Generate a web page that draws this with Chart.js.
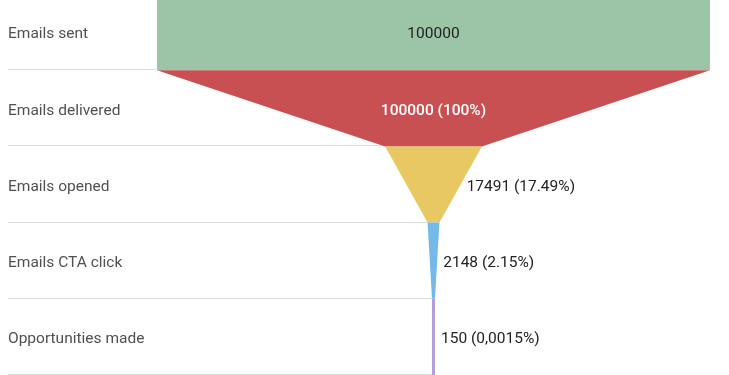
<!DOCTYPE html>
<html>
<head>
<meta charset="utf-8">
<script src="https://cdn.jsdelivr.net/npm/chart.js@4.4.1/dist/chart.umd.min.js"></script>
<style>
  html, body { margin: 0; padding: 0; background: #fff; overflow: hidden; }
  #wrap { position: relative; top: -6px; width: 729px; height: 381px; }
</style>
</head>
<body>
<div id="wrap"><canvas id="funnel"></canvas></div>
<script>
// funnel data
const stages = ["Emails sent", "Emails delivered", "Emails opened", "Emails CTA click", "Opportunities made"];
const counts = [100000, 100000, 17491, 2148, 150];
const valueLabels = ["100000", "100000 (100%)", "17491 (17.49%)", "2148 (2.15%)", "150 (0,0015%)"];

const stageColors = ["#9bc5a6", "#c95052", "#e8c862", "#74b9e7", "#b39ddb"];
const textColors = ["#222", "#fff", "#222", "#222", "#222"];

// draws each stage as a trapezoid: top = this count, bottom = next count
const funnelPlugin = {
  id: 'funnel',
  afterDatasetsDraw(chart) {
    const ctx = chart.ctx;
    const xs = chart.scales.x, ys = chart.scales.y;
    const cx = xs.getPixelForValue(0);
    const half = v => Math.max(xs.getPixelForValue(v / 2) - cx, 1.5);
    const rowH = ys.getPixelForValue(1) - ys.getPixelForValue(0);

    ctx.save();
    counts.forEach((v, i) => {
      const next = i < counts.length - 1 ? counts[i + 1] : v;
      const yc = ys.getPixelForValue(i);
      const ty = yc + 2.5;
      const top = yc - rowH / 2, bottom = yc + rowH / 2;
      const ht = half(v), hb = half(next);

      // separator line from the label column to the funnel edge
      ctx.strokeStyle = '#dcdcdc';
      ctx.lineWidth = 1;
      ctx.beginPath();
      ctx.moveTo(8, Math.round(bottom) - 0.5);
      ctx.lineTo(cx - hb, Math.round(bottom) - 0.5);
      ctx.stroke();

      ctx.fillStyle = stageColors[i];
      ctx.beginPath();
      ctx.moveTo(cx - ht, top);
      ctx.lineTo(cx + ht, top);
      ctx.lineTo(cx + hb, bottom);
      ctx.lineTo(cx - hb, bottom);
      ctx.closePath();
      ctx.fill();

      // stage name
      ctx.font = '15.5px Roboto';
      ctx.textBaseline = 'middle';
      ctx.textAlign = 'left';
      ctx.fillStyle = '#505050';
      ctx.fillText(stages[i], 8, ty);

      // value label, inside if there is room
      const midW = ht + hb;
      const tw = ctx.measureText(valueLabels[i]).width;
      if (midW > tw + 20) {
        ctx.textAlign = 'center';
        ctx.fillStyle = textColors[i];
        ctx.font = (textColors[i] === '#fff' ? '500 ' : '') + '15.5px Roboto';
        ctx.fillText(valueLabels[i], cx, ty);
      } else {
        ctx.textAlign = 'left';
        ctx.fillStyle = '#222';
        ctx.fillText(valueLabels[i], cx + midW / 2 + 6, ty);
      }
    });
    ctx.restore();
  }
};

new Chart(document.getElementById('funnel'), {
  type: 'bar',
  data: {
    labels: stages,
    datasets: [{
      data: counts.map(v => [-v / 2, v / 2]),
      backgroundColor: 'rgba(0,0,0,0)'
    }]
  },
  options: {
    indexAxis: 'y',
    responsive: true,
    maintainAspectRatio: false,
    animation: false,
    layout: { padding: 0 },
    plugins: { legend: { display: false }, tooltip: { enabled: false } },
    scales: {
      x: { type: 'linear', display: false, min: -78391, max: 53435 },
      y: { display: false }
    }
  },
  plugins: [funnelPlugin]
});
</script>
</body>
</html>
